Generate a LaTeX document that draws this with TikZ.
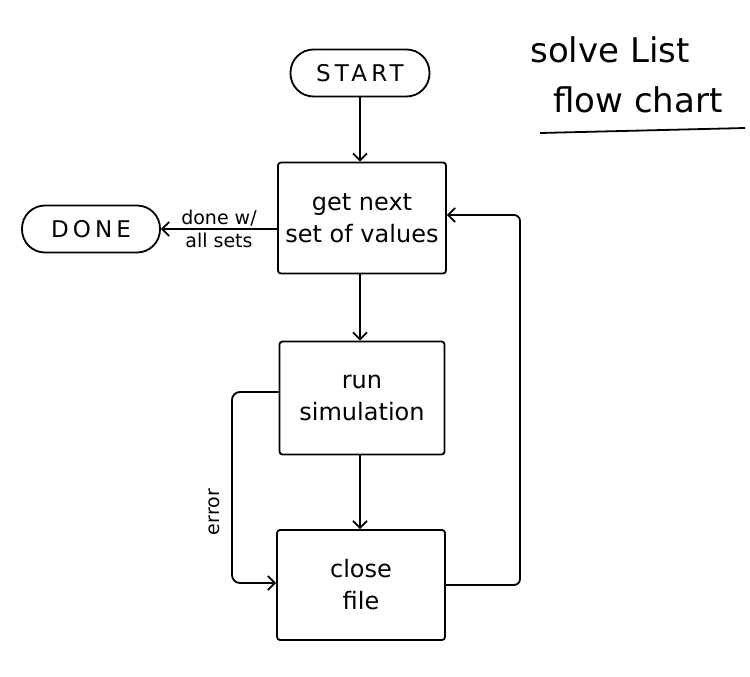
\documentclass[tikz,border=0pt]{standalone}
\usepackage{fontspec}
\setmainfont{DejaVu Sans}
\usetikzlibrary{arrows.meta}
\begin{document}
\begin{tikzpicture}[x=1pt,y=-1pt,
  line width=1.8pt,
  pill/.style={draw,rounded corners=23pt,minimum height=47pt,inner sep=0pt,font=\fontsize{23}{26}\selectfont\addfontfeatures{LetterSpace=18}},
  procbox/.style={draw,rounded corners=3pt,inner sep=0pt,align=center,font=\fontsize{24}{32}\selectfont},
  flow/.style={-{Straight Barb[length=7pt,width=14pt]},line width=1.8pt},
  lbl/.style={font=\fontsize{19}{22}\selectfont,inner sep=1pt},
  title/.style={font=\fontsize{34}{38}\selectfont,inner sep=0pt}]
\useasboundingbox (0,0) rectangle (750,677);
\node[pill,minimum width=139pt] (start) at (360,73) {START};
\node[pill,minimum width=138pt] (done) at (91,229) {DONE};
\node[procbox,minimum width=168pt,minimum height=111pt] (get) at (362,218) {get next\\set of values};
\node[procbox,minimum width=165pt,minimum height=113pt] (run) at (362,398) {run\\simulation};
\node[procbox,minimum width=168pt,minimum height=110pt] (close) at (361,585) {close\\file};
\draw[flow] (start) -- (start.south |- get.north);
\draw[flow] (get.south -| 360,0) -- (360,0 |- run.north);
\draw[flow] (run.south -| 360,0) -- (360,0 |- close.north);
\draw[flow] (get.west |- 0,229) -- (done.east) node[lbl,pos=0.5,above=1pt] {done w/} node[lbl,pos=0.5,below=2pt] {all sets};
\coordinate (e1) at (232,392);
\coordinate (e2) at (232,583);
\draw[flow,rounded corners=8pt] (run.west |- e1) -- (e1) -- (e2) -- (close.west |- e2);
\node[lbl,rotate=90] (err) at (214,512) {error};
\coordinate (r1) at (520,585);
\coordinate (r2) at (520,215);
\draw[flow,rounded corners=6pt] (close.east |- r1) -- (r1) -- (r2) -- (get.east |- r2);
\node[title] (t1) at (610,50) {solve List};
\node[title] (t2) at (638,100) {flow chart};
\coordinate (u1) at (540,133);
\coordinate (u2) at (745,128);
\draw (u1) -- (u2);
\end{tikzpicture}
\end{document}
